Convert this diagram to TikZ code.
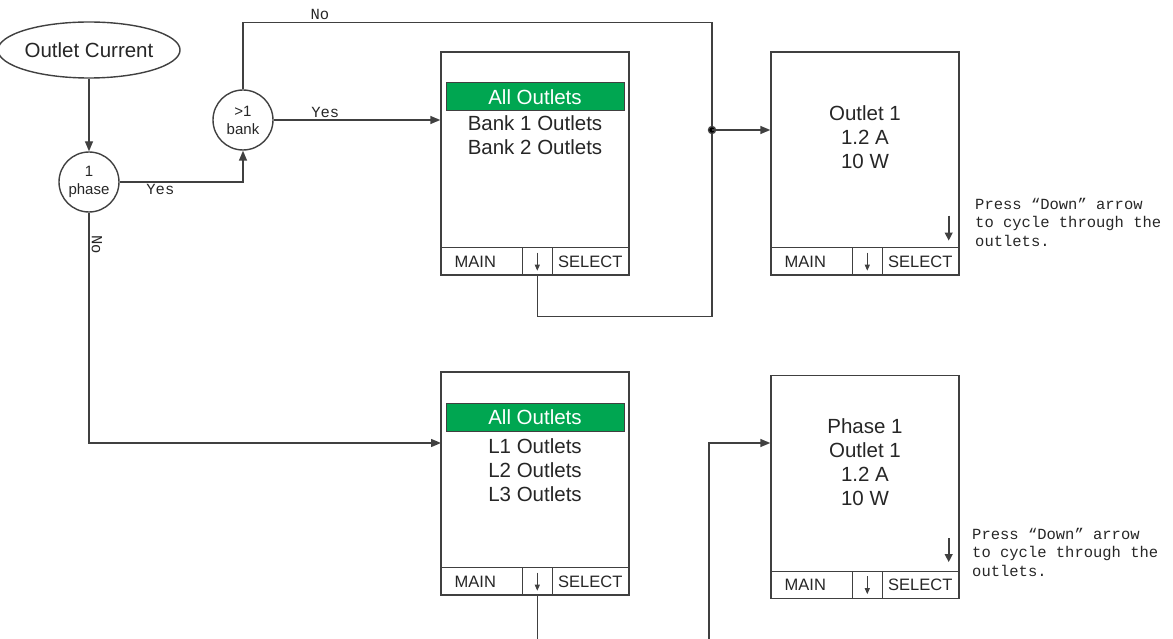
\documentclass[tikz,border=0pt]{standalone}
\usepackage{fontspec}
\setmainfont{Liberation Sans}
\setmonofont{Liberation Mono}
\usetikzlibrary{positioning,arrows.meta,calc,shapes.geometric}
\colorlet{wire}{black!75}
\colorlet{ink}{black!85}
\definecolor{menugreen}{HTML}{00A651}
\tikzset{
  wire/.style={draw=wire, line width=1.4pt},
  flow/.style={wire, -{Triangle[length=10pt,width=8pt]}},
  start/.style={ellipse, draw=wire, line width=1.4pt, minimum width=153pt,
    minimum height=56pt, inner sep=0pt, text=ink, font=\fontsize{20.5}{24}\selectfont},
  decision/.style={circle, draw=wire, line width=1.4pt, minimum size=60pt,
    inner sep=0pt, align=center, text=ink, font=\fontsize{15}{18}\selectfont},
  screen/.style={rectangle, draw=wire, line width=1.4pt, minimum width=188pt,
    minimum height=223pt, inner sep=0pt},
  hilite/.style={rectangle, draw=wire, line width=1pt, fill=menugreen,
    minimum width=178pt, minimum height=28pt, inner sep=0pt, text=white,
    font=\fontsize{20.5}{24}\selectfont},
  screentext/.style={align=center, text=ink, inner sep=0pt,
    font=\fontsize{20.5}{24}\selectfont},
  keytext/.style={text=ink, inner sep=0pt, font=\fontsize{16.5}{18}\selectfont},
  lbl/.style={text=ink, inner sep=2pt, font=\ttfamily\fontsize{15.5}{18}\selectfont},
  note/.style={text=ink, inner sep=0pt, align=left,
    font=\ttfamily\fontsize{15.5}{18.5}\selectfont}
}
% soft key bar along the bottom of a screen
\newcommand{\softkeys}[1]{%
  \draw[wire] ([yshift=28pt]#1.south west) -- ([yshift=28pt]#1.south east);
  \draw[wire] ([xshift=82pt]#1.south west) -- ++(0,-28);
  \draw[wire] ([xshift=112pt]#1.south west) -- ++(0,-28);
  \node[keytext] (#1-main) at ([xshift=35pt,yshift=14pt]#1.south west) {MAIN};
  \node[keytext] (#1-sel) at ([xshift=150pt,yshift=14pt]#1.south west) {SELECT};
  \coordinate (#1-key) at ([xshift=97pt]#1.south west);
  \draw[draw=wire, line width=1pt, -{Triangle[length=6pt,width=5pt]}]
    ([yshift=23pt]#1-key) -- ([yshift=5pt]#1-key);
}

\begin{document}
\begin{tikzpicture}[x=1pt, y=-1pt]
  \useasboundingbox (0,0) rectangle (1173,639);

  % Decisions
  \node[start] (start) at (89,50) {Outlet Current};
  \node[decision] (phase) at (89,182) {1\\phase};
  \node[decision] (bank) at (243,120) {>1\\bank};

  % Screens
  \node[screen] (banks) at (535,163.5) {};
  \node[screen] (outlet) at (865,163.5) {};
  \node[screen] (lines) at (535,483.5) {};
  \node[screen] (detail) at (865,487) {};
  \softkeys{banks}
  \softkeys{outlet}
  \softkeys{lines}
  \softkeys{detail}

  % Screen contents
  \node[hilite] (banks-all) at (535,97) {All Outlets};
  \node[screentext] (banks-list) at (535,135) {Bank 1 Outlets\\Bank 2 Outlets};
  \node[screentext] (outlet-read) at (865,137) {Outlet 1\\1.2 A\\10 W};
  \node[hilite] (lines-all) at (535,417) {All Outlets};
  \node[screentext] (lines-list) at (535,470) {L1 Outlets\\L2 Outlets\\L3 Outlets};
  \node[screentext] (detail-read) at (865,462) {Phase 1\\Outlet 1\\1.2 A\\10 W};
  \draw[draw=wire, line width=2.4pt, -{Triangle[length=8pt,width=7.5pt]}]
    ([xshift=-11pt,yshift=60pt]outlet.south east) -- ([xshift=-11pt,yshift=35pt]outlet.south east);
  \draw[draw=wire, line width=2.4pt, -{Triangle[length=8pt,width=7.5pt]}]
    ([xshift=-11pt,yshift=61pt]detail.south east) -- ([xshift=-11pt,yshift=37pt]detail.south east);

  % Notes
  \node[note, anchor=west] (outlet-note) at (975,222)
    {Press “Down” arrow\\to cycle through the\\outlets.};
  \node[note, anchor=west] (detail-note) at (972,552)
    {Press “Down” arrow\\to cycle through the\\outlets.};

  % Connectors
  \coordinate (junc) at (712,130);
  \coordinate (lines-in) at (441,443);
  \coordinate (tail) at (709,639);
  \draw[flow] (start.south) -- (phase.north);
  \draw[flow] (phase.east) -| node[pos=0.165, below, lbl] {Yes} (bank.south);
  \draw[flow] (bank.east) -- node[pos=0.31, above, lbl] {Yes} (bank.east -| banks.west);
  \draw[wire] (bank.north) -- ++(0,-67) -| node[pos=0.082, above, lbl] {No} (junc);
  \draw[wire] (banks-key) -- ++(0,41) -| (junc);
  \fill[wire] (junc) circle (3.5pt);
  \draw[flow] (junc) -- (junc -| outlet.west);
  \draw[flow] (phase.south) |- node[pos=0.07, rotate=-90, anchor=south, lbl] {No} (lines-in);
  \draw[wire] (lines-key) -- (lines-key |- tail);
  \draw[flow] (tail) |- (lines-in -| detail.west);
\end{tikzpicture}
\end{document}
